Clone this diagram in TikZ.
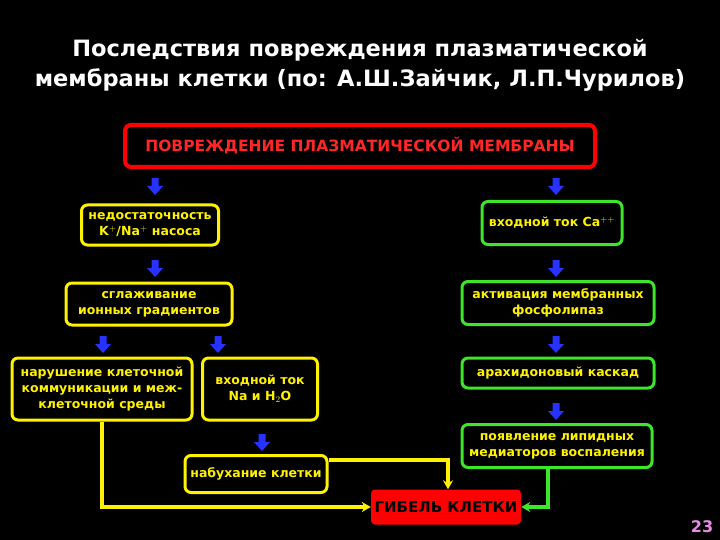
\documentclass[tikz,border=0pt]{standalone}
\usepackage{fontspec}
\setmainfont{DejaVu Sans}
\usetikzlibrary{arrows.meta}
\definecolor{grn}{RGB}{60,230,40}
\definecolor{blu}{RGB}{40,50,255}
\definecolor{pnk}{RGB}{230,140,230}
\begin{document}
\begin{tikzpicture}[x=1pt,y=-1pt,
  box/.style={draw=#1,line width=3pt,rounded corners=6pt,fill=black,text=yellow,align=center,font=\bfseries\fontsize{12.5}{16}\selectfont,inner sep=1pt},
  ybox/.style={box=yellow},
  gbox/.style={box=grn},
  yline/.style={draw=yellow,line width=3.5pt,-{Stealth[length=9pt,width=10pt]}},
  gline/.style={draw=grn,line width=3.5pt,-{Stealth[length=9pt,width=10pt]}},
  barrow/.style={fill=blu}]
\fill[black] (0,0) rectangle (720,540);
\useasboundingbox (0,0) rectangle (720,540);
\node[text=white,font=\bfseries\fontsize{22.5}{30}\selectfont,align=center] (title) at (360,65) {Последствия повреждения плазматической\\мембраны клетки (по: А.Ш.Зайчик, Л.П.Чурилов)};
\node[draw=red,line width=4pt,rounded corners=6pt,minimum width=470pt,minimum height=42pt,text=red!85!white,font=\bfseries\fontsize{15.5}{18}\selectfont] (top) at (360,146) {ПОВРЕЖДЕНИЕ ПЛАЗМАТИЧЕСКОЙ МЕМБРАНЫ};
\node[ybox,minimum width=137pt,minimum height=40pt] (kna) at (150,225) {недостаточность\\K$^{+}$/Na$^{+}$ насоса};
\node[gbox,minimum width=140pt,minimum height=43pt] (ca) at (552,223) {входной ток Ca$^{++}$};
\node[ybox,minimum width=166pt,minimum height=42pt] (sgl) at (149,304) {сглаживание\\ионных градиентов};
\node[gbox,minimum width=192pt,minimum height=43pt] (akt) at (558,303) {активация мембранных\\фосфолипаз};
\node[ybox,minimum width=180pt,minimum height=62pt] (nar) at (102,389) {нарушение клеточной\\коммуникации и меж-\\клеточной среды};
\node[ybox,minimum width=115pt,minimum height=62pt] (vna) at (260,389) {входной ток\\Na и H$_2$O};
\node[gbox,minimum width=192pt,minimum height=30pt] (arh) at (558,373) {арахидоновый каскад};
\node[gbox,minimum width=190pt,minimum height=43pt] (poy) at (557,446) {появление липидных\\медиаторов воспаления};
\node[ybox,minimum width=142pt,minimum height=37pt] (nab) at (256,474) {набухание клетки};
\node[fill=red,rounded corners=4pt,minimum width=150pt,minimum height=35pt,font=\bfseries\fontsize{15}{18}\selectfont,text=black,inner sep=1pt] (gib) at (446,507) {ГИБЕЛЬ КЛЕТКИ};
\node[text=pnk,font=\bfseries\fontsize{16}{18}\selectfont] (num) at (702,527) {23};
\draw[yline] (nar.south) |- (gib.west);
\draw[yline] (nab.east |- 0,460) -| (gib.north -| 448,0);
\draw[gline] (poy.south -| 548,0) |- (gib.east);
\foreach \x/\y in {155/186,155/268,103/344,218/344,262/442,556/186,556/268,556/344,556/411}{
  \fill[barrow] (\x-3.5,\y-8) -- (\x+3.5,\y-8) -- (\x+3.5,\y) -- (\x+8,\y) -- (\x,\y+9) -- (\x-8,\y) -- (\x-3.5,\y) -- cycle;
}
\end{tikzpicture}
\end{document}
